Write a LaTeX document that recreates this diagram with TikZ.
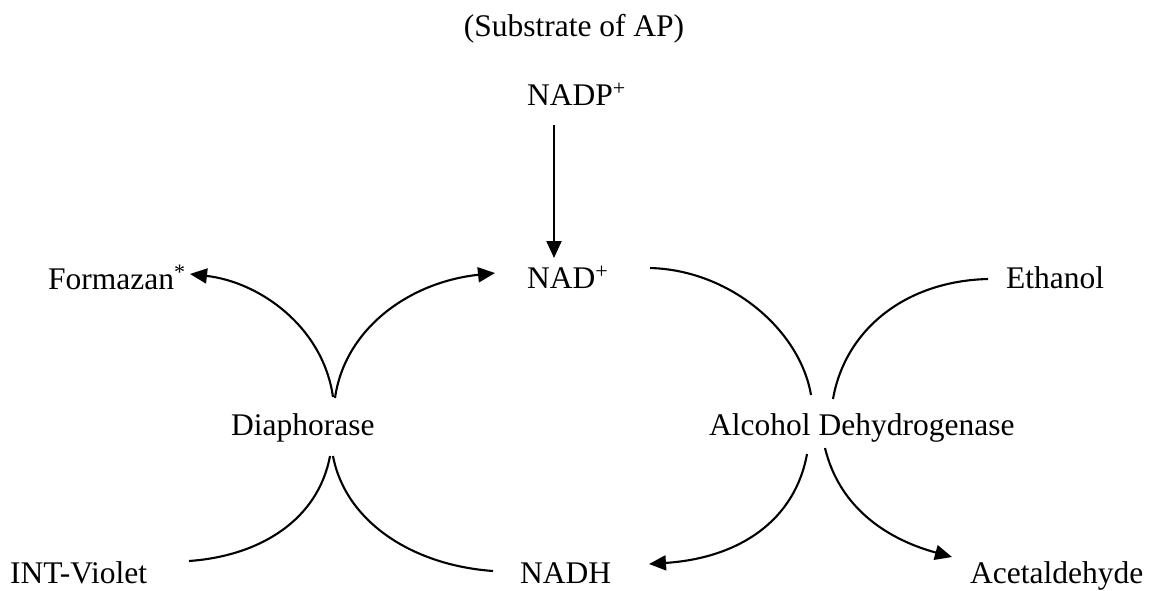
\documentclass[tikz,border=0pt]{standalone}
\usepackage{fontspec}
\setmainfont{Liberation Serif}
\usetikzlibrary{arrows.meta}
\tikzset{
  lbl/.style={inner sep=0pt, anchor=base west, font=\fontsize{31.5}{38}\selectfont},
  link/.style={line width=2.1pt},
  arr/.style={link, -{Triangle[length=17pt,width=15pt]}}
}
\begin{document}
\begin{tikzpicture}[x=1pt,y=-1pt]
\useasboundingbox (0,0) rectangle (1154,590);
% labels
\node[lbl, anchor=base] (sub) at (574,36) {(Substrate of AP)};
\node[lbl] (nadp) at (527,105) {NADP\textsuperscript{+}};
\node[lbl] (nad) at (527,288) {NAD\textsuperscript{+}};
\node[lbl] (form) at (48,289) {Formazan\textsuperscript{*}};
\node[lbl] (dia) at (231,435) {Diaphorase};
\node[lbl] (adh) at (709,435) {Alcohol Dehydrogenase};
\node[lbl] (eth) at (1006,288) {Ethanol};
\node[lbl] (intv) at (10,583) {INT-Violet};
\node[lbl] (nadh) at (520,583) {NADH};
\node[lbl] (acet) at (970,583) {Acetaldehyde};
% connector end points
\coordinate (nadpS) at (554,125);
\coordinate (nadN) at (554,258);
\coordinate (formE) at (190,274);
\coordinate (nadW) at (495,273);
\coordinate (nadE) at (650,268);
\coordinate (ethW) at (988,279);
\coordinate (intvE) at (189,561);
\coordinate (nadhW) at (493,571);
\coordinate (nadhE) at (649,564);
\coordinate (acetW) at (952,557);
\coordinate (diaNW) at (333,397);
\coordinate (diaNE) at (335,398);
\coordinate (diaSW) at (330,456);
\coordinate (diaSE) at (333,456);
\coordinate (adhNW) at (811,395);
\coordinate (adhNE) at (833,399);
\coordinate (adhSW) at (807,454);
\coordinate (adhSE) at (825,448);
% connectors
\draw[arr] (nadpS) -- (nadN);
\draw[arr] (diaNW) .. controls (323,327) and (260,282) .. (formE);
\draw[arr] (diaNE) .. controls (345,328) and (410,282) .. (nadW);
\draw[link] (diaSW) .. controls (318,520) and (260,556) .. (intvE);
\draw[link] (diaSE) .. controls (345,520) and (410,565) .. (nadhW);
\draw[link] (nadE) .. controls (730,270) and (800,330) .. (adhNW);
\draw[link] (ethW) .. controls (905,281) and (845,330) .. (adhNE);
\draw[arr] (adhSW) .. controls (795,520) and (740,558) .. (nadhE);
\draw[arr] (adhSE) .. controls (840,510) and (890,540) .. (acetW);
\end{tikzpicture}
\end{document}
